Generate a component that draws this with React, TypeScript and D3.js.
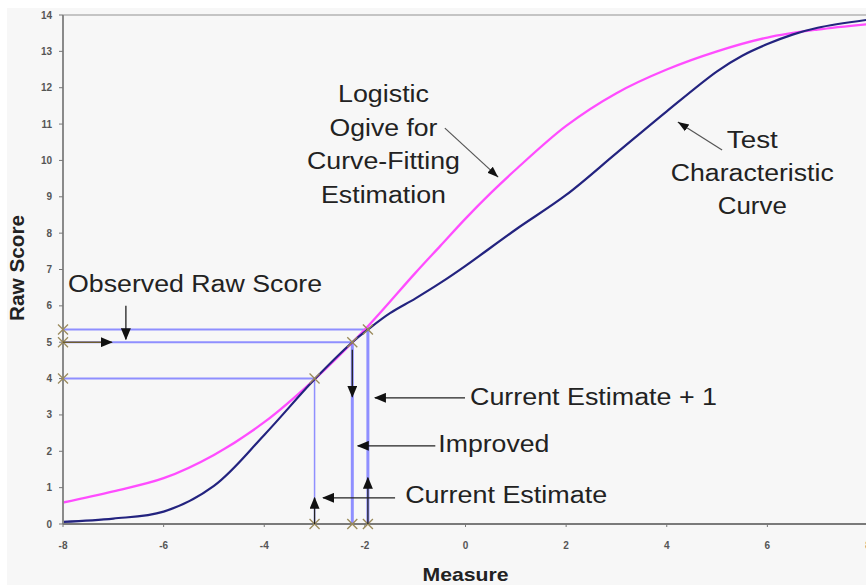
import * as d3 from 'd3';

// Test characteristic curve (navy)
const tccMeasure = [-8, -7, -6, -5, -4, -3, -2.25, -1.94, -1.5, -1, -0.5, 0, 1, 2, 3, 4, 5, 5.5, 6, 6.5, 7, 8];
const tccScore = [0.06, 0.15, 0.34, 1.05, 2.45, 3.98, 5.0, 5.35, 5.8, 6.2, 6.63, 7.1, 8.1, 9.05, 10.2, 11.35, 12.45, 12.88, 13.2, 13.46, 13.65, 13.87];

// Logistic ogive (magenta)
const ogiveMeasure = [-8, -7, -6, -5, -4, -3, -2, -1, -0.5, 0, 0.5, 1, 2, 3, 4, 5, 6, 7, 8];
const ogiveScore = [0.59, 0.9, 1.26, 1.9, 2.8, 3.98, 5.35, 6.9, 7.65, 8.4, 9.1, 9.75, 10.95, 11.85, 12.5, 13.0, 13.38, 13.6, 13.75];

// Newton-Raphson steps: estimate -> raw score
const stepMeasure = [-3, -2.25, -1.94];
const stepScore = [4, 5, 5.35];

const xTicks = [-8, -6, -4, -2, 0, 2, 4, 6, 8];
const yTicks = d3.range(0, 15);

// Arrows [x1, y1, x2, y2] in data units, head at (x2, y2)
const arrows: [number, number, number, number][] = [
  [-6.75, 6.0, -6.75, 5.08],
  [-2.25, 4.79, -2.25, 3.5],
  [-0.01, 3.47, -1.8, 3.47],
  [-0.6, 2.15, -2.14, 2.15],
  [-1.4, 0.72, -2.83, 0.72],
  [-3, 0, -3, 0.72],
  [-1.94, 0, -1.94, 1.27],
];
const pointers: [number, number, number, number][] = [
  [-0.41, 10.89, 0.65, 9.54],
  [5.1, 10.29, 4.22, 11.06],
];

// [text, x, y, width] x/y in data units: left/baseline
const labels: [string, number, number, number][] = [
  ['Observed Raw Score', -7.9, 6.38, 254],
  ['Current Estimate + 1', 0.09, 3.28, 247],
  ['Improved', -0.54, 1.98, 111],
  ['Current Estimate', -1.2, 0.58, 202],
];
// centred blocks
const ogiveLines = ['Logistic', 'Ogive for', 'Curve-Fitting', 'Estimation'];
const ogiveWidths = [91, 108, 153, 125];
const tccLines = ['Test', 'Characteristic', 'Curve'];
const tccWidths = [51, 163, 69];

export default function App() {
  const width = 866;
  const height = 585;
  const x = d3.scaleLinear().domain([-8, 8]).range([63, 868]);
  const y = d3.scaleLinear().domain([0, 14]).range([524, 15]);

  const line = d3.line<[number, number]>()
    .x(d => x(d[0]))
    .y(d => y(d[1]))
    .curve(d3.curveCatmullRom.alpha(0.5));

  const tcc = line(tccMeasure.map((m, i) => [m, tccScore[i]]));
  const ogive = line(ogiveMeasure.map((m, i) => [m, ogiveScore[i]]));

  const guide = '#8f8fff';
  const crossColor = '#9a8a5a';
  const cross = (cx: number, cy: number, k: string) => (
    <g key={k} stroke={crossColor} strokeWidth={1.3}>
      <line x1={cx - 5} y1={cy - 5} x2={cx + 5} y2={cy + 5} />
      <line x1={cx - 5} y1={cy + 5} x2={cx + 5} y2={cy - 5} />
    </g>
  );
  const font = "'Liberation Sans', Arial, sans-serif";

  return (
    <svg width={width} height={height} style={{ position: 'absolute', left: 0, top: 0 }} fontFamily={font}>
      <defs>
        <marker id="head" markerUnits="userSpaceOnUse" markerWidth={12} markerHeight={10}
          refX={11} refY={5} orient="auto">
          <path d="M0,0 L12,5 L0,10 z" fill="#111" />
        </marker>
        <marker id="head2" markerUnits="userSpaceOnUse" markerWidth={12} markerHeight={10}
          refX={11} refY={5} orient="auto">
          <path d="M0,1 L11,5 L0,9 z" fill="#111" />
        </marker>
        <clipPath id="plot">
          <rect x={x(-8)} y={y(14) - 3} width={x(8) - x(-8)} height={y(0) - y(14) + 3} />
        </clipPath>
      </defs>
      <rect x={0} y={0} width={width} height={height} fill="#fff" />
      <rect x={7} y={8} width={width - 7} height={height - 8} fill="#f7f7f7" />

      {/* frame */}
      <line x1={x(-8)} x2={width} y1={y(14)} y2={y(14)} stroke="#c4c4c4" strokeWidth={2} />

      {/* guide lines */}
      {stepMeasure.map((m, i) => (
        <g key={'g' + i} stroke={guide}>
          <line x1={x(-8)} x2={x(m)} y1={y(stepScore[i])} y2={y(stepScore[i])} strokeWidth={2} />
          <line x1={x(m)} x2={x(m)} y1={y(0)} y2={y(stepScore[i])} strokeWidth={i === 0 ? 1.5 : 3} />
        </g>
      ))}

      {/* curves */}
      <g clipPath="url(#plot)" fill="none">
        <path d={ogive ?? ''} stroke="#ff4dff" strokeWidth={2.3} />
        <path d={tcc ?? ''} stroke="#23237f" strokeWidth={2.2} />
      </g>

      {/* axes */}
      <line x1={x(-8)} x2={x(-8)} y1={y(14)} y2={y(0)} stroke="#8a8a8a" strokeWidth={2} />
      <line x1={x(-8)} x2={width} y1={y(0)} y2={y(0)} stroke="#7a7a7a" strokeWidth={2} />
      {yTicks.map(t => (
        <g key={'y' + t}>
          <line x1={x(-8) - 4} x2={x(-8)} y1={y(t)} y2={y(t)} stroke="#777" />
          <text x={52} y={y(t)} dy="0.35em" textAnchor="end" fontSize={10} fontWeight="bold" fill="#555">{t}</text>
        </g>
      ))}
      {xTicks.map(t => (
        <g key={'x' + t}>
          <line x1={x(t)} x2={x(t)} y1={y(0)} y2={y(0) + 3} stroke="#777" />
          <text x={x(t)} y={y(0) + 25} textAnchor="middle" fontSize={10} fontWeight="bold" fill="#555">{t}</text>
        </g>
      ))}

      {/* crosses */}
      {stepMeasure.map((m, i) => (
        <g key={'c' + i}>
          {cross(x(m), y(stepScore[i]), 'a')}
          {cross(x(-8), y(stepScore[i]), 'b')}
          {cross(x(m), y(0), 'c')}
        </g>
      ))}

      {/* arrows */}
      <line x1={x(-8)} x2={x(-7.03)} y1={y(5)} y2={y(5)} stroke="#6e5e30" strokeWidth={1.5} markerEnd="url(#head)" />
      {arrows.map((a, i) => (
        <line key={'a' + i} x1={x(a[0])} y1={y(a[1])} x2={x(a[2])} y2={y(a[3])}
          stroke="#222" strokeWidth={1.3} markerEnd="url(#head)" />
      ))}
      {pointers.map((a, i) => (
        <line key={'p' + i} x1={x(a[0])} y1={y(a[1])} x2={x(a[2])} y2={y(a[3])}
          stroke="#555" strokeWidth={1.2} markerEnd="url(#head2)" />
      ))}

      {/* annotations */}
      {labels.map(([t, lx, ly, w]) => (
        <text key={t} x={x(lx)} y={y(ly)} fontSize={23} fill="#222"
          textLength={w} lengthAdjust="spacingAndGlyphs">{t}</text>
      ))}
      {ogiveLines.map((t, i) => (
        <text key={t} x={x(-1.63) - ogiveWidths[i] / 2} y={102 + i * 33.5} fontSize={23} fill="#222"
          textLength={ogiveWidths[i]} lengthAdjust="spacingAndGlyphs">{t}</text>
      ))}
      {tccLines.map((t, i) => (
        <text key={t} x={x(5.7) - tccWidths[i] / 2} y={148 + i * 33} fontSize={23} fill="#222"
          textLength={tccWidths[i]} lengthAdjust="spacingAndGlyphs">{t}</text>
      ))}

      {/* axis titles */}
      <text x={x(0)} y={581} textAnchor="middle" fontSize={19} fontWeight="bold" fill="#222"
        textLength={86} lengthAdjust="spacingAndGlyphs">Measure</text>
      <text transform="translate(24,268) rotate(-90)" textAnchor="middle" fontSize={20} fontWeight="bold" fill="#222"
        textLength={106} lengthAdjust="spacingAndGlyphs">Raw Score</text>
    </svg>
  );
}
